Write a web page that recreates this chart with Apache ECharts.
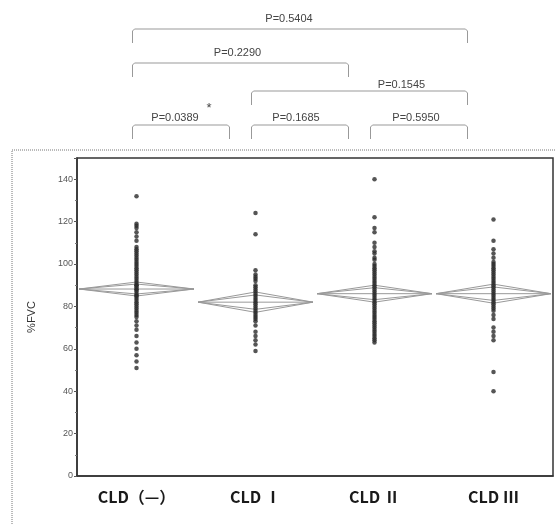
<!DOCTYPE html>
<html>
<head>
<meta charset="utf-8">
<script src="https://cdn.jsdelivr.net/npm/echarts@6/dist/echarts.min.js"></script>
<style>html,body{margin:0;padding:0;background:#fff}#c{width:556px;height:524px}</style>
</head>
<body>
<div id="c"></div>
<script>
const categories = ['CLD（—）', 'CLD Ⅰ', 'CLD Ⅱ', 'CLD Ⅲ'];
const yTicks = [0, 20, 40, 60, 80, 100, 120, 140];

const cldNone = [132, 119, 118, 117, 115, 113, 111, 108, 107, 106, 105, 104, 103, 102, 101, 100, 99, 98, 97, 96, 95, 94, 93, 92, 91, 90, 90, 89, 88, 88, 87, 86, 85, 85, 84, 83, 82, 81, 80, 79, 78, 77, 76, 75, 73, 71, 69, 66, 63, 60, 57, 54, 51];
const cld1 = [124, 114, 97, 95, 94, 93, 92, 90, 89, 88, 87, 86, 85, 84, 83, 82, 81, 80, 79, 78, 77, 76, 75, 74, 73, 71, 68, 66, 64, 62, 59];
const cld2 = [140, 122, 117, 115, 110, 108, 106, 105, 103, 102, 100, 99, 98, 97, 96, 95, 94, 93, 92, 91, 90, 89, 88, 87, 86, 85, 84, 83, 82, 81, 80, 79, 78, 77, 76, 75, 74, 73, 72, 71, 70, 69, 68, 67, 66, 65, 64, 63];
const cld3 = [121, 111, 107, 105, 103, 101, 100, 99, 98, 97, 96, 95, 94, 93, 92, 91, 90, 89, 88, 87, 86, 85, 84, 83, 82, 81, 80, 79, 78, 76, 74, 70, 68, 66, 64, 49, 40];

const means = [88.2, 82.0, 86.0, 86.0];
const ciLow = [84.9, 77.2, 82.0, 81.5];
const ciHigh = [91.5, 86.8, 90.0, 90.5];

// comparisons: [fromIndex, toIndex, label]
const compFrom = [0, 0, 1, 0, 1, 2];
const compTo = [3, 2, 3, 1, 2, 3];
const compLabels = ['P=0.5404', 'P=0.2290', 'P=0.1545', 'P=0.0389', 'P=0.1685', 'P=0.5950'];
const compStar = ['', '', '', '*', '', ''];

// annotation layout (pixels)
const bracketY = [29, 63, 91, 125, 125, 125];
const labelDx = [-11, -3, 42, -6, -4, -3];
const labelDy = [-10, -10, -6, -7, -7, -7];

const groups = [cldNone, cld1, cld2, cld3];
const scatterData = [];
groups.forEach((arr, i) => arr.forEach(v => scatterData.push([i, v])));
const diamondData = means.map((m, i) => [i, m, ciLow[i], ciHigh[i]]);

const chart = echarts.init(document.getElementById('c'));
chart.setOption({
  animation: false,
  backgroundColor: '#fff',
  grid: { left: 77, top: 158, right: 3, bottom: 48, show: true, borderColor: '#333', borderWidth: 1.5, backgroundColor: 'transparent' },
  xAxis: {
    type: 'category', data: categories, boundaryGap: true,
    axisLine: { lineStyle: { color: '#333', width: 1.5 } },
    axisTick: { show: false },
    axisLabel: { color: '#1a1a1a', fontSize: 16, fontWeight: 'bold', fontFamily: 'Noto Sans CJK JP', margin: 13 }
  },
  yAxis: {
    type: 'value', min: 0, max: 150, interval: 20,
    name: '%FVC', nameLocation: 'middle', nameGap: 40, nameRotate: 90,
    nameTextStyle: { color: '#333', fontSize: 11, fontFamily: 'Liberation Sans' },
    axisLine: { show: true, lineStyle: { color: '#333', width: 1.5 } },
    axisTick: { show: true, length: 3, lineStyle: { color: '#555' } },
    minorTick: { show: true, splitNumber: 2, length: 2, lineStyle: { color: '#777' } },
    splitLine: { show: false },
    axisLabel: { color: '#555', fontSize: 9, fontFamily: 'Liberation Sans', margin: 4,
      formatter: v => (yTicks.indexOf(v) >= 0 ? String(v) : '') }
  },
  series: [
    {
      type: 'custom',
      data: diamondData,
      z: 1,
      renderItem: function (params, api) {
        const xi = api.value(0), m = api.value(1), lo = api.value(2), hi = api.value(3);
        const c = api.coord([xi, m]);
        const half = api.size([1, 0])[0] / 2 - 2;
        const yHi = api.coord([xi, hi])[1];
        const yLo = api.coord([xi, lo])[1];
        const hw = (yLo - yHi) / 2;
        const inner = hw / Math.SQRT2;
        const L = c[0] - half, R = c[0] + half;
        const st = { stroke: '#999', lineWidth: 1, fill: null };
        return {
          type: 'group',
          children: [
            { type: 'polygon', shape: { points: [[L, c[1]], [c[0], yHi], [R, c[1]], [c[0], yLo]] }, style: st },
            { type: 'polyline', shape: { points: [[L, c[1]], [c[0], c[1] - inner], [R, c[1]]] }, style: st },
            { type: 'polyline', shape: { points: [[L, c[1]], [c[0], c[1] + inner], [R, c[1]]] }, style: st },
            { type: 'line', shape: { x1: L, y1: c[1], x2: R, y2: c[1] }, style: st }
          ]
        };
      }
    },
    {
      type: 'scatter', data: scatterData, symbolSize: 4.5, z: 3,
      itemStyle: { color: '#2a2a2a' }
    }
  ]
});

const px = i => chart.convertToPixel({ xAxisIndex: 0 }, i);
const graphics = [
  { type: 'rect', shape: { x: 12, y: 150, width: 600, height: 420 },
    style: { fill: null, stroke: '#777', lineWidth: 1, lineDash: [1, 1] }, silent: true, z: -1 }
];
compFrom.forEach((f, k) => {
  const x1 = px(f) - 4, x2 = px(compTo[k]) - 26, y = bracketY[k];
  graphics.push({
    type: 'polyline',
    shape: { points: [[x1, y + 14], [x1, y + 2], [x1 + 2, y], [x2 - 2, y], [x2, y + 2], [x2, y + 14]] },
    style: { fill: null, stroke: '#999', lineWidth: 1 }
  });
  const cx = (x1 + x2) / 2 + labelDx[k];
  graphics.push({
    type: 'text', x: cx, y: y + labelDy[k],
    style: { text: compLabels[k], fill: '#444', font: '11px "Liberation Sans"', align: 'center', verticalAlign: 'middle' }
  });
  if (compStar[k]) {
    graphics.push({
      type: 'text', x: cx + 34, y: y + labelDy[k] - 10,
      style: { text: compStar[k], fill: '#444', font: '13px "Liberation Sans"', align: 'center', verticalAlign: 'middle' }
    });
  }
});
chart.setOption({ graphic: graphics });
</script>
</body>
</html>
